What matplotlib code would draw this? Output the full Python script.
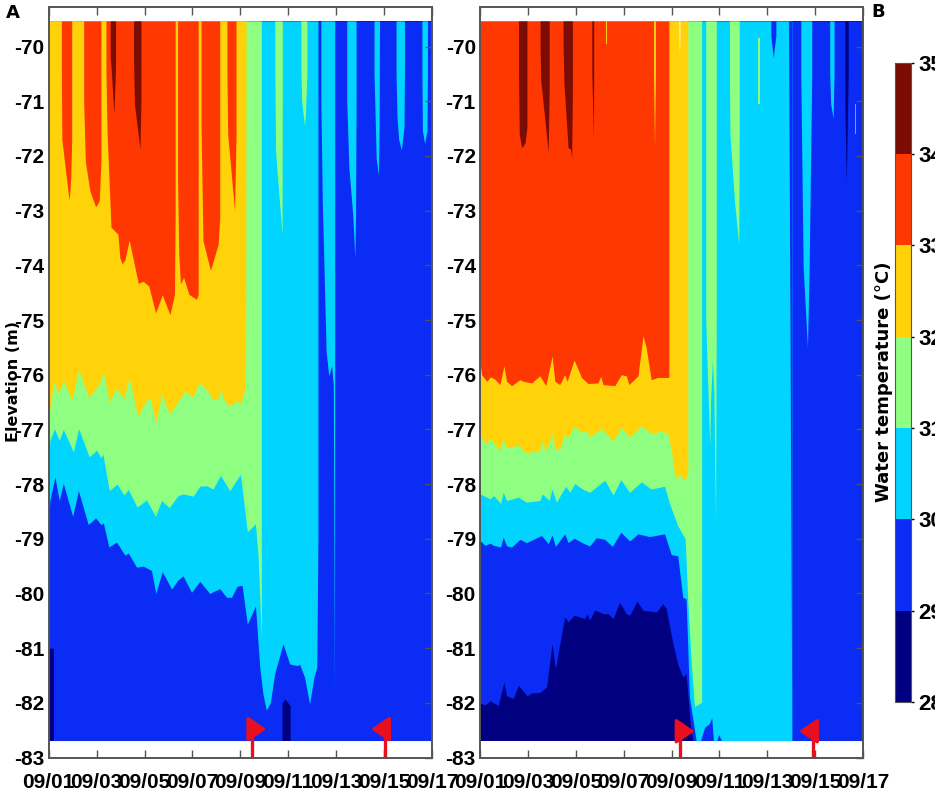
"""Water temperature sections for two sites: isotherm elevation against time, filled by 1 degree band."""
import matplotlib; matplotlib.use("Agg")
import matplotlib.pyplot as plt
from matplotlib.cm import ScalarMappable
from matplotlib.colors import BoundaryNorm, ListedColormap

TOP = -69.53; BOT = -82.69
T = TOP; B = BOT

date_labels = ["09/01", "09/03", "09/05", "09/07", "09/09", "09/11", "09/13", "09/15", "09/17"]
elev_ticks = list(range(-83, -69))
temp_levels = [28, 29, 30, 31, 32, 33, 34, 35]
band_colors = ["#000080", "#0a2cf5", "#00d4ff", "#8fff82", "#ffd20a", "#ff3700", "#7a0c04"]
RED = "#e8101e"; SPINE = "#555555"

# ---- panel A: elevation of each isotherm (days since 09/01) ----
a29_t = [0, 0.2, 0.2, 9.74, 9.74, 9.86, 10.08, 10.08, 16]
a29_z = [-81, -81, B, B, -82.0, -81.93, -82.05, B, B]

a30_t = [0, .05, .26, .44, .61, 1.0, 1.24, 1.65, 1.96, 2.18, 2.28, 2.51, 2.83, 3.18, 3.32, 3.67, 3.94, 4.29, 4.47,
         4.74, 5.13, 5.40, 5.61, 5.96, 6.31, 6.72, 7.14, 7.42, 7.63, 7.86, 8.07, 8.29, 8.63, 8.81, 8.94, 9.08, 9.25,
         9.43, 9.78, 10.06, 10.40, 10.47, 10.68, 10.89, 11.07, 11.19, 11.24, 11.24,
         11.36, 11.36, 11.42, 11.58, 11.69, 11.81, 11.88, 11.93, 11.94, 11.94,
         12.44, 12.44, 12.53, 12.69, 12.78, 12.81, 12.83, 12.83,
         13.58, 13.58, 13.61, 13.67, 13.76, 13.79, 13.81,
         14.5, 14.5, 14.54, 14.61, 14.72, 14.83, 14.85, 14.85,
         15.58, 15.58, 15.6, 15.69, 15.79, 15.81, 15.81, 16]
a30_z = [-78.76, -78.3, -77.87, -78.3, -77.99, -78.59, -78.12, -78.74, -78.62, -78.74, -78.71, -79.15, -79.06, -79.3,
         -79.26, -79.52, -79.5, -79.58, -80.0, -79.6, -79.92, -79.75, -79.68, -79.98, -79.78, -80.0, -79.91, -80.07,
         -80.07, -79.87, -79.85, -80.56, -80.23, -81.35, -81.83, -82.13, -82.0, -81.47, -80.92, -81.29, -81.32, -81.29,
         -81.53, -82.02, -81.53, -81.35, -79, T,
         T, -71, -72.82, -75.57, -76.02, -75.84, -76.2, -81.9, -75, T,
         T, -71, -72.21, -73.07, -73.86, -73.07, -71, T,
         T, -70.5, -71, -72.04, -72.35, -71.6, T,
         T, -70.5, -71.3, -71.7, -71.89, -71.48, -70.5, T,
         T, -70.5, -71.54, -71.77, -71.54, -70.5, T, T]

a31_t = [0, .05, .24, .44, .61, 1.03, 1.25, 1.69, 2.0, 2.18, 2.26, 2.53, 2.86, 3.14, 3.32, 3.69, 4.08, 4.46, 4.71,
         5.03, 5.40, 5.61, 6.03, 6.31, 6.58, 6.86, 7.17, 7.56, 8.0, 8.29, 8.63, 8.74, 8.81, 8.875, 8.875,
         9.44, 9.44, 9.47, 9.5, 9.74, 9.75, 9.75, 10.53, 10.53, 10.56, 10.68, 10.72, 10.78, 10.78, 16]
a31_z = [-77.58, -77.2, -76.99, -77.2, -77.0, -77.41, -76.99, -77.5, -77.38, -77.52, -77.45, -78.12, -78.0, -78.2,
         -78.1, -78.42, -78.29, -78.59, -78.3, -78.43, -78.21, -78.18, -78.22, -78.04, -78.03, -78.09, -77.84, -78.12,
         -77.82, -78.87, -78.73, -79.3, -80.07, -80.85, T,
         T, -70.5, -71.9, -72.1, -73.43, -71, T, T, -70.5, -71.0, -71.45, -71.2, -70.5, T, T]

a32_t = [0, .04, .22, .42, .61, .97, 1.25, 1.67, 2.06, 2.28, 2.54, 2.82, 3.14, 3.35, 3.72, 4.07, 4.25, 4.46, 4.72,
         5.04, 5.42, 5.69, 6.01, 6.29, 6.64, 6.85, 7.06, 7.17, 7.40, 7.64, 7.86, 8.0, 8.17, 8.22, 8.24, 16]
a32_z = [-76.65, -76.65, -76.12, -76.34, -76.1, -76.47, -75.9, -76.42, -76.2, -75.96, -76.5, -76.24, -76.44, -76.05,
         -76.76, -76.47, -76.42, -76.9, -76.35, -76.72, -76.47, -76.3, -76.41, -76.14, -76.29, -76.46, -76.44, -76.28,
         -76.53, -76.55, -76.47, -76.53, -76.29, -75.8, T, T]

a33_t = [0, .53, .53, .55, .82, .86, .92, .96, .96, 1.46, 1.46, 1.53, 1.72, 1.96, 2.11, 2.18, 2.18,
         2.39, 2.39, 2.44, 2.60, 2.89, 2.97, 3.06, 3.18, 3.36, 3.74, 3.94, 4.18, 4.46, 4.74, 5.06, 5.25, 5.28, 5.28,
         5.38, 5.38, 5.43, 5.50, 5.63, 5.85, 6.17, 6.24, 6.24,
         6.36, 6.36, 6.44, 6.75, 7.07, 7.14, 7.14, 7.44, 7.44, 7.47, 7.76, 7.82, 7.82, 16]
a33_z = [T, T, -70.5, -71.7, -72.7, -72.8, -72.4, -71.7, T, T, -71, -72.1, -72.64, -72.93, -72.82, -72.1, T,
         T, -70.5, -71.6, -73.3, -73.43, -73.86, -73.97, -73.9, -73.54, -74.33, -74.29, -74.38, -74.87, -74.54, -74.9,
         -74.53, -73, T,
         T, -72.5, -73.8, -74.34, -74.22, -74.53, -74.62, -74.53, T,
         T, -71.5, -73.55, -74.09, -73.62, -73.13, T, T, -70.5, -71.6, -73, -71.6, T, T]

a34_t = [0, 2.57, 2.57, 2.61, 2.72, 2.79, 2.79, 3.54, 3.54, 3.58, 3.81, 3.85, 3.85, 16]
a34_z = [T, T, -70.2, -70.4, -71.24, -70.4, T, T, -70.2, -71.05, -71.88, -71.0, T, T]

# ---- panel B ----
b29_t = [0, .21, .42, .76, 1.0, 1.11, 1.39, 1.6, 1.97, 2.15, 2.5, 2.78, 3.01, 3.15, 3.31, 3.54, 3.68, 3.93, 4.17, 4.38,
         4.47, 4.58, 4.79, 5.14, 5.35, 5.56, 5.83, 6.11, 6.25, 6.56, 6.81, 7.08, 7.36, 7.64, 7.78, 8.06, 8.26, 8.47,
         8.61, 8.78, 8.89, 16]
b29_z = [-82.0, -82.04, -81.96, -82.05, -81.62, -81.87, -81.92, -81.68, -81.87, -81.82, -81.81, -81.71, -80.92, -81.38,
         -80.98, -80.43, -80.52, -80.4, -80.43, -80.46, -80.37, -80.49, -80.3, -80.37, -80.37, -80.46, -80.16, -80.37,
         -80.4, -80.14, -80.31, -80.32, -80.34, -80.19, -80.28, -80.92, -81.29, -81.53, -81.47, -82.38, B, B]

b30_t = [0, .21, .42, .56, .86, .97, 1.11, 1.32, 1.67, 1.94, 2.57, 2.85, 3.01, 3.15, 3.54, 3.68, 3.93, 4.31, 4.58, 4.86,
         5.21, 5.53, 5.88, 6.25, 6.6, 7.08, 7.71, 7.99, 8.26, 8.47, 8.61, 8.75, 9.03, 9.21, 9.38, 9.58, 9.68, 9.75,
         9.89, 9.97, 10.09, 13.03, 13.03,
         13.40, 13.40, 13.5, 13.68, 13.75, 13.86, 13.86,
         14.61, 14.61, 14.65, 14.75, 14.79, 14.79, 16]
b30_z = [-79.03, -79.12, -79.08, -79.12, -79.15, -78.97, -79.13, -79.15, -79.01, -79.07, -78.94, -79.09, -78.93, -79.14,
         -78.91, -79.07, -78.99, -79.08, -79.13, -78.98, -79.01, -79.14, -78.88, -79.04, -78.91, -78.96, -78.91, -79.29,
         -79.31, -80.07, -80.1, -81.9, B, B, -82.45, -82.38, -82.27, B, B, -82.58, B, B, T,
         T, -70.5, -74.04, -75.5, -74.04, -70.5, T,
         T, -70.5, -71.05, -71.31, -70.5, T, T]

b31_t = [0, .42, .56, .86, .97, 1.11, 1.6, 1.94, 2.5, 2.6, 2.89, 3.01, 3.19, 3.58, 3.75, 3.96, 4.31, 4.58, 5.21, 5.56,
         5.88, 6.25, 6.74, 7.15, 7.71, 7.92, 8.26, 8.57, 8.68, 8.82, 8.96, 9.26, 9.26,
         9.43, 9.43, 9.5, 9.6, 9.63, 9.71, 9.77, 9.84, 9.87, 9.87,
         10.42, 10.42, 10.44, 10.63, 10.81, 10.83, 10.83, 16]
b31_z = [-78.18, -78.27, -78.21, -78.35, -78.15, -78.3, -78.24, -78.33, -78.3, -78.18, -78.3, -78.09, -78.33, -78.04,
         -78.15, -77.99, -78.1, -78.15, -77.93, -78.2, -77.92, -78.15, -77.96, -78.09, -78.04, -78.36, -78.76, -79.0,
         -80.13, -81.23, -82.07, -81.99, T,
         T, -75, -76, -77.32, -76.5, -75.73, -76.3, -78.78, -75, T,
         T, -70.5, -71.6, -72.82, -73.62, -71.5, T, T]

b32_t = [0, .21, .42, .83, .97, 1.11, 1.6, 1.94, 2.5, 2.6, 2.78, 3.01, 3.13, 3.36, 3.54, 3.64, 3.93, 4.24, 4.44, 4.58,
         5.07, 5.56, 5.9, 6.25, 6.74, 7.15, 7.57, 7.85, 7.99, 8.15, 8.33, 8.57, 8.68, 8.68, 16]
b32_z = [-77.08, -77.26, -77.17, -77.38, -77.17, -77.34, -77.29, -77.43, -77.38, -77.21, -77.41, -77.06, -77.37, -77.34,
         -77.06, -77.17, -76.94, -77.05, -77.03, -77.13, -76.99, -77.21, -76.96, -77.14, -76.93, -77.08, -77.03, -77.08,
         -77.38, -77.87, -77.84, -77.93, -77.78, T, T]

b33_t = [0, .07, .28, .44, .62, .83, 1.0, 1.11, 1.32, 1.67, 1.81, 2.15, 2.5, 2.75, 3.01, 3.13, 3.33, 3.54, 3.64, 3.93,
         4.24, 4.51, 4.93, 5.04, 5.14, 5.63, 5.9, 6.11, 6.22, 6.6, 6.81, 6.94, 7.15, 7.43, 7.85, 7.89, 7.89, 16]
b33_z = [-75.77, -76.0, -76.12, -76.04, -76.08, -76.18, -75.84, -76.12, -76.2, -76.09, -76.12, -76.15, -76.02, -76.2,
         -75.66, -76.12, -76.18, -76.0, -76.12, -75.73, -76.05, -76.16, -76.15, -76.03, -76.18, -76.2, -76.0, -76.02,
         -76.18, -76.02, -75.29, -75.5, -76.09, -76.05, -76.05, -76.05, T, T]

b34_t = [0, 1.61, 1.61, 1.64, 1.74, 1.88, 1.96, 1.96, 2.51, 2.51, 2.54, 2.85, 2.89, 2.89,
         3.47, 3.47, 3.51, 3.68, 3.78, 3.83, 3.86, 3.86, 4.67, 4.67, 4.74, 4.75, 4.75, 16]
b34_z = [T, T, -70.5, -71.6, -71.85, -71.76, -71.48, T, T, -70, -70.63, -71.93, -70.8, T,
         T, -70, -70.7, -71.85, -71.87, -72.04, -70.8, T, T, -70.5, -71.65, -70.5, T, T]

# cold or warm streaks that sit the wrong way round in the column: colour, days, lower edge, upper edge
b_streaks = [
    ("#ffd20a", [7.25, 7.25, 7.29, 7.33, 7.33], [T, -70.5, -71.85, -70.5, T], [T] * 5),
    ("#ffd20a", [5.26, 5.3], [-69.95, -69.95], [T, T]),
    ("#ffe97a", [8.29, 8.29, 8.33, 8.37, 8.37], [T, -69.8, -70.15, -69.8, T], [T] * 5),
    ("#8fff82", [11.6, 11.69], [-71.05, -71.05], [-69.84, -69.84]),
    ("#0a2cf5", [12.15, 12.15, 12.25, 12.36, 12.36], [T, -69.8, -70.2, -69.8, T], [T] * 5),
    ("#0a2cf5", [12.89, 13.03], [T, B], [T, T]),
    ("#000080", [15.24, 15.24, 15.3, 15.36, 15.38, 15.38], [T, -71, -72.5, -71, -70.5, T], [T] * 6),
    ("#00d4ff", [15.67, 15.71], [-71.6, -71.6], [-71.05, -71.05]),
]

# red markers: stem day, bend day, arrow tip day, bend elevation
a_markers = [(8.49, 8.78, 9.08, -82.48), (14.04, 13.78, 13.46, -82.48)]
b_markers = [(8.36, 8.66, 8.96, -82.52), (13.9, 13.62, 13.33, -82.52)]

plt.rcParams["font.family"] = ["Liberation Sans Narrow", "Liberation Sans", "DejaVu Sans"]

fig = plt.figure(figsize=(9.35, 7.99), dpi=100)
W, H = 935.0, 799.0


def box(x0, y0, x1, y1):
    return [x0 / W, 1 - y1 / H, (x1 - x0) / W, (y1 - y0) / H]


def panel(rect, layers, markers, streaks=()):
    ax = fig.add_axes(rect)
    ax.fill_between([0, 16], BOT, TOP, color=band_colors[0], lw=0)
    for i, (t, z) in enumerate(layers):
        ax.fill_between(t, z, TOP, color=band_colors[i + 1], lw=0)
    for color, t, low, high in streaks:
        ax.fill_between(t, low, high, color=color, lw=0)
    for stem, bend, tip, level in markers:
        ax.plot([stem, stem, bend], [-83, level, level], color=RED, lw=2.4, solid_capstyle="butt", zorder=5)
        ax.annotate("", xy=(tip, level), xytext=(bend - (tip - bend) * 0.2, level), zorder=6,
                    arrowprops=dict(arrowstyle="-|>,head_width=0.38,head_length=0.55", mutation_scale=20, color=RED,
                                    lw=2.4, shrinkA=0, shrinkB=0))
    ax.set_xlim(0, 16); ax.set_ylim(-83, -69.27)
    ax.set_xticks(range(0, 17, 2)); ax.set_xticklabels(date_labels)
    ax.set_yticks(elev_ticks); ax.set_yticklabels([str(v) for v in elev_ticks])
    ax.tick_params(axis="x", direction="in", length=6, width=1, top=True, color=SPINE, pad=11)
    ax.tick_params(axis="y", direction="in", length=5, width=1, left=False, right=True, color=SPINE, pad=3)
    for lab in ax.get_xticklabels() + ax.get_yticklabels():
        lab.set_fontsize(15); lab.set_fontweight("bold")
    for s in ax.spines.values():
        s.set_color(SPINE); s.set_linewidth(1.4)
    return ax


panel(box(48.7, 6.7, 432, 757.5),
      [(a29_t, a29_z), (a30_t, a30_z), (a31_t, a31_z), (a32_t, a32_z), (a33_t, a33_z), (a34_t, a34_z)], a_markers)
panel(box(480, 6.7, 863, 757.5),
      [(b29_t, b29_z), (b30_t, b30_z), (b31_t, b31_z), (b32_t, b32_z), (b33_t, b33_z), (b34_t, b34_z)], b_markers,
      b_streaks)

cax = fig.add_axes(box(895, 62.7, 911, 702))
cb = fig.colorbar(ScalarMappable(BoundaryNorm(temp_levels, 7), ListedColormap(band_colors)), cax=cax)
cb.set_ticks(temp_levels)
cb.ax.tick_params(length=2, width=1, pad=3)
for lab in cb.ax.get_yticklabels():
    lab.set_fontsize(16); lab.set_fontweight("bold")
cb.outline.set_edgecolor(SPINE)

fig.text(13 / W, 1 - 13 / H, "A", family="DejaVu Sans", fontsize=13, fontweight="bold", ha="center", va="center")
fig.text(878 / W, 1 - 12 / H, "B", family="DejaVu Sans", fontsize=13, fontweight="bold", ha="center", va="center")
fig.text(14 / W, 1 - 382 / H, "Elevation (m)", family="DejaVu Sans", fontsize=11.5, fontweight="bold",
         rotation=90, ha="center", va="center")
fig.text(884 / W, 1 - 382 / H, "Water temperature (\u00b0C)", family="DejaVu Sans", fontsize=13, fontweight="bold",
         rotation=90, ha="center", va="center")

fig.savefig("out.png", dpi=100)
print("saved out.png")
